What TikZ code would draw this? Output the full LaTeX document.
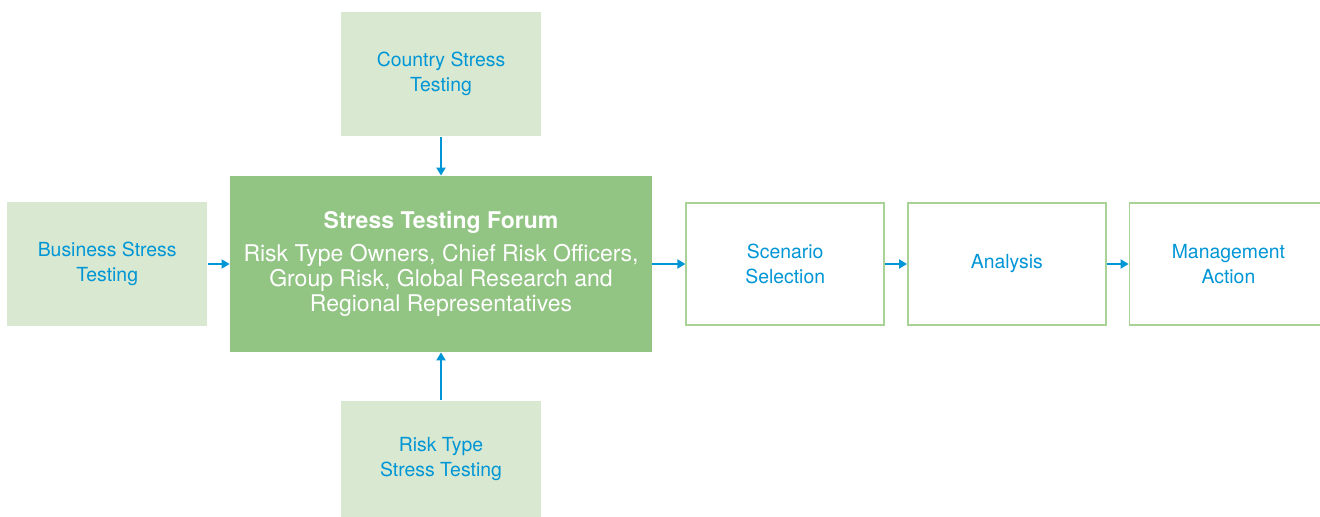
\documentclass[tikz,border=0pt]{standalone}
\usepackage{fontspec}
\setmainfont{TeX Gyre Heros}
\usepackage{xcolor}
\usepackage{tikz}
\usetikzlibrary{arrows.meta,positioning}
\definecolor{forumgreen}{RGB}{146,196,131}
\definecolor{palegreen}{RGB}{216,232,209}
\definecolor{edgegreen}{RGB}{168,210,150}
\definecolor{linkblue}{RGB}{0,150,214}
\tikzset{
  input/.style={fill=palegreen, text=linkblue, align=center,
    minimum width=100pt, minimum height=62pt, inner sep=3pt},
  forum/.style={fill=forumgreen, text=white, align=center,
    font=\fontsize{11.5pt}{12.5pt}\selectfont,
    minimum width=211pt, minimum height=88pt, inner sep=3pt},
  stage/.style={draw=edgegreen, line width=0.8pt, fill=white, text=linkblue,
    align=center, minimum width=99pt, minimum height=61pt, inner sep=3pt},
  flow/.style={-{Triangle[length=4pt, width=4.5pt]}, line width=0.9pt, draw=linkblue}
}

\begin{document}
\begin{tikzpicture}[font=\fontsize{9.7pt}{12.5pt}\selectfont]
        \clip (0,0) rectangle (660pt,-258.5pt);
        \fill[white] (0,0) rectangle (660pt,-258.5pt);
        \node[forum] (forum) at (220.5pt,-132pt)
          {\textbf{Stress Testing Forum}\\[4pt]
           Risk Type Owners, Chief Risk Officers,\\
           Group Risk, Global Research and\\Regional Representatives};
        \node[input, above=19.5pt of forum] (country) {Country Stress\\Testing};
        \node[input, left=11pt of forum] (business) {Business Stress\\Testing};
        \node[input, minimum height=58.5pt, below=24pt of forum] (risktype) {Risk Type\\Stress Testing};
        \node[stage, right=16.5pt of forum] (scenario) {Scenario\\Selection};
        \node[stage, right=11pt of scenario] (analysis) {Analysis};
        \node[stage, right=11pt of analysis] (action) {Management\\Action};
        \draw[flow] (country) -- (forum);
        \draw[flow] (business) -- (forum);
        \draw[flow] (risktype) -- (forum);
        \draw[flow] (forum) -- (scenario);
        \draw[flow] (scenario) -- (analysis);
        \draw[flow] (analysis) -- (action);
    \end{tikzpicture}
\end{document}
